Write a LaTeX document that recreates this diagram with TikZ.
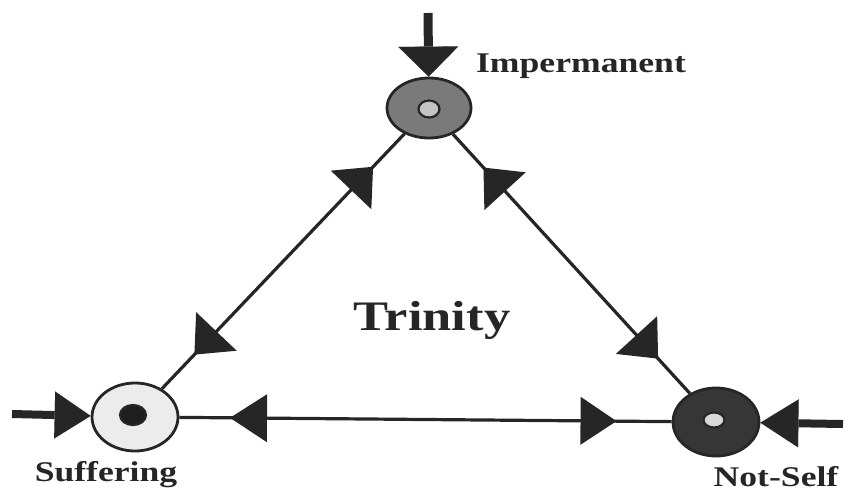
\documentclass[tikz,border=0pt]{standalone}
\usepackage{fontspec}
\setmainfont{Liberation Serif}[FakeStretch=1.25]
\usetikzlibrary{shapes.geometric,arrows.meta,decorations.markings}
\definecolor{ink}{HTML}{262626}
\definecolor{impfill}{HTML}{7A7A7A}
\definecolor{impcore}{HTML}{C4C4C4}
\definecolor{suffill}{HTML}{ECECEC}
\definecolor{sufcore}{HTML}{1E1E1E}
\definecolor{nsfill}{HTML}{363636}
\definecolor{nscore}{HTML}{D8D8D8}
\tikzset{
  state/.style={ellipse, draw=ink, line width=2.8pt, inner sep=0pt},
  core/.style={ellipse, draw=ink, line width=2.2pt, inner sep=0pt},
  edge/.style={draw=ink, line width=3.2pt},
  feed/.style n args={3}{draw=ink, line width=#1,
    -{Triangle[width=#2,length=#3,line width=0.1pt]}},
  fwd/.style n args={3}{postaction={decorate, decoration={markings,
    mark=at position #1 with {\fill[ink] (#2,0pt) -- (0pt,#3) -- (0pt,-#3) -- cycle;}}}},
  bwd/.style n args={3}{postaction={decorate, decoration={markings,
    mark=at position #1 with {\fill[ink] (-#2,0pt) -- (0pt,#3) -- (0pt,-#3) -- cycle;}}}},
  lbl/.style={text=ink, font=\bfseries\fontsize{28.5}{30}\selectfont, inner sep=0pt, anchor=base}
}
\begin{document}
\begin{tikzpicture}[x=1pt, y=-1pt]
\useasboundingbox (0,0) rectangle (856,493);

% states
\node[state, fill=impfill, minimum width=84pt, minimum height=60pt] (imp) at (429,108) {};
\node[core, fill=impcore, minimum width=21pt, minimum height=17pt] (impc) at (429,109) {};
\node[state, fill=suffill, minimum width=86pt, minimum height=68pt] (suf) at (135,417) {};
\node[core, fill=sufcore, minimum width=26pt, minimum height=20pt] (sufc) at (133,415) {};
\node[state, fill=nsfill, minimum width=86pt, minimum height=68pt] (ns) at (716,422) {};
\node[core, fill=nscore, minimum width=21pt, minimum height=15pt] (nsc) at (714,420) {};

% input arrows
\coordinate (impsrc) at (428,13);
\coordinate (sufsrc) at (12,414);
\coordinate (nssrc) at (843,424);
\draw[feed={9pt}{60pt}{30pt}] (impsrc) -- (imp);
\draw[feed={8pt}{47pt}{36pt}] (sufsrc) -- (suf);
\draw[feed={8pt}{48pt}{38pt}] (nssrc) -- (ns);

% triangle edges
\draw[edge, bwd={0.22}{32pt}{28pt}, fwd={0.775}{32pt}{28pt}] (imp) -- (suf);
\draw[edge, bwd={0.22}{32pt}{28pt}, fwd={0.775}{32pt}{28pt}] (imp) -- (ns);
\draw[edge, bwd={0.178}{37pt}{24pt}, fwd={0.815}{36pt}{24pt}] (suf) -- (ns);

% labels
\node[lbl] (implbl) at (581,72) {Impermanent};
\node[lbl] (suflbl) at (106,481) {Suffering};
\node[lbl] (nslbl) at (776,486) {Not-Self};
\node[lbl, font=\bfseries\fontsize{42}{46}\selectfont] (trin) at (432,330) {Trinity};
\end{tikzpicture}
\end{document}
